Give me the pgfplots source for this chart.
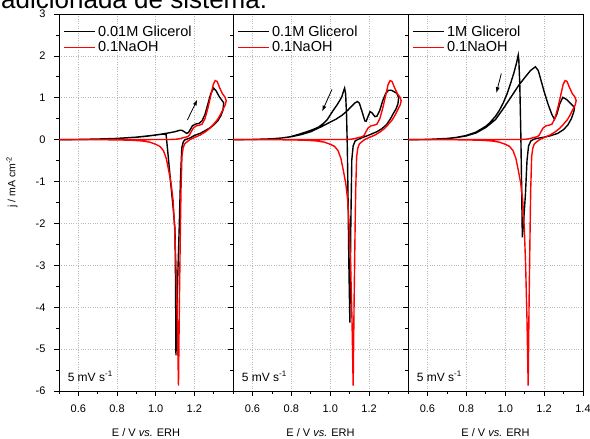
\documentclass[border=0pt]{standalone}
\usepackage{fontspec}
\setmainfont{Liberation Sans}
\usepackage{pgfplots}
\usepackage{pgfplotstable}
\pgfplotsset{compat=1.18}
\usetikzlibrary{arrows.meta}

% 0.1 M NaOH blank (same curve in all panels)
\pgfplotstableread{
E j
0.500 0.000
0.600 0.000
0.700 0.000
0.800 0.001
0.900 0.002
1.000 0.003
1.080 0.005
1.110 0.012
1.130 0.030
1.150 0.055
1.165 0.070
1.175 0.110
1.185 0.200
1.195 0.280
1.210 0.330
1.225 0.345
1.240 0.370
1.255 0.500
1.270 0.750
1.285 1.050
1.298 1.320
1.308 1.410
1.318 1.390
1.330 1.250
1.345 1.100
1.358 1.020
1.365 0.930
1.360 0.830
1.350 0.740
1.335 0.600
1.320 0.480
1.300 0.370
1.280 0.270
1.255 0.180
1.230 0.110
1.200 0.050
1.180 0.010
1.165 -0.040
1.150 -0.100
1.142 -0.200
1.136 -0.400
1.131 -1.200
1.128 -2.100
1.123 -3.800
1.118 -5.870
1.112 -4.300
1.105 -3.000
1.098 -2.100
1.090 -1.450
1.080 -1.050
1.068 -0.750
1.055 -0.450
1.040 -0.260
1.022 -0.160
1.000 -0.110
0.970 -0.060
0.930 -0.030
0.880 -0.015
0.800 -0.005
0.700 -0.001
0.500 0.000
}\naoh

% 0.01 M glicerol
\pgfplotstableread{
E j
0.500 0.000
0.600 0.005
0.700 0.015
0.800 0.030
0.900 0.060
0.970 0.095
1.020 0.125
1.060 0.155
1.100 0.190
1.125 0.225
1.135 0.225
1.148 0.190
1.160 0.150
1.170 0.170
1.180 0.250
1.190 0.330
1.205 0.370
1.225 0.390
1.240 0.450
1.255 0.600
1.270 0.850
1.285 1.100
1.300 1.230
1.312 1.170
1.330 1.020
1.352 0.880
1.348 0.700
1.336 0.560
1.320 0.440
1.300 0.350
1.280 0.280
1.250 0.200
1.230 0.150
1.200 0.100
1.178 0.040
1.165 0.020
1.152 0.000
1.143 -0.050
1.135 -0.200
1.128 -1.000
1.122 -2.080
1.116 -3.000
1.110 -4.000
1.105 -5.150
1.103 -3.500
1.100 -2.140
1.090 -1.600
1.077 -1.000
1.065 -0.400
1.054 0.120
1.040 0.135
1.000 0.110
0.950 0.080
0.900 0.058
0.800 0.028
0.700 0.013
0.600 0.004
0.500 0.000
}\glia

% 0.1 M glicerol
\pgfplotstableread{
E j
0.500 0.000
0.600 0.005
0.700 0.020
0.750 0.040
0.800 0.070
0.850 0.120
0.900 0.190
0.950 0.300
0.980 0.370
1.000 0.420
1.030 0.490
1.060 0.580
1.090 0.700
1.110 0.800
1.128 0.880
1.140 0.910
1.150 0.870
1.165 0.650
1.178 0.450
1.185 0.440
1.195 0.560
1.205 0.670
1.215 0.640
1.230 0.550
1.240 0.560
1.255 0.700
1.270 0.930
1.285 1.100
1.300 1.180
1.315 1.180
1.330 1.140
1.342 1.110
1.352 1.000
1.348 0.850
1.338 0.730
1.325 0.630
1.310 0.500
1.290 0.360
1.265 0.260
1.240 0.190
1.210 0.130
1.188 0.090
1.160 0.040
1.145 0.010
1.128 -0.030
1.118 -0.150
1.111 -0.480
1.106 -2.000
1.101 -4.370
1.096 -3.000
1.092 -1.500
1.088 -0.200
1.084 0.600
1.079 1.100
1.074 1.230
1.068 1.150
1.060 1.030
1.051 0.950
1.035 0.830
1.017 0.710
1.000 0.590
0.985 0.480
0.966 0.390
0.940 0.300
0.910 0.240
0.880 0.190
0.840 0.130
0.795 0.070
0.750 0.040
0.700 0.020
0.600 0.005
0.500 0.000
}\glib

% 1 M glicerol
\pgfplotstableread{
E j
0.500 0.000
0.600 0.005
0.700 0.025
0.750 0.050
0.800 0.090
0.850 0.160
0.900 0.290
0.950 0.480
0.990 0.740
1.030 1.020
1.070 1.300
1.100 1.480
1.130 1.650
1.155 1.740
1.170 1.650
1.185 1.400
1.200 1.150
1.220 0.850
1.240 0.600
1.253 0.490
1.265 0.600
1.280 0.850
1.296 1.010
1.315 0.960
1.335 0.870
1.356 0.770
1.353 0.670
1.340 0.500
1.322 0.350
1.300 0.240
1.270 0.150
1.230 0.090
1.200 0.060
1.170 0.035
1.149 0.015
1.132 -0.030
1.120 -0.150
1.112 -0.500
1.104 -1.300
1.094 -2.000
1.088 -2.330
1.084 -1.000
1.080 0.200
1.075 1.300
1.070 1.900
1.067 2.020
1.058 1.830
1.045 1.600
1.028 1.350
1.010 1.100
0.990 0.880
0.970 0.700
0.950 0.560
0.920 0.400
0.900 0.320
0.850 0.180
0.800 0.100
0.750 0.055
0.700 0.028
0.600 0.006
0.500 0.000
}\glic

\pgfplotsset{
  legend image code/.code={\draw[#1] (0pt,0pt) -- (31pt,0pt);},
  cvpanel/.style={
    scale only axis, width=174pt, height=377pt, anchor=south west,
    xmin=0.5, xmax=1.4, ymin=-6, ymax=3,
    xtick={0.6,0.8,1.0,1.2},
    minor xtick={0.5,0.7,0.9,1.1,1.3},
    ytick={-6,-5,-4,-3,-2,-1,0,1,2,3},
    minor ytick={-5.5,-4.5,-3.5,-2.5,-1.5,-0.5,0.5,1.5,2.5},
    tick pos=left, tick align=outside,
    major tick length=5pt, minor tick length=3pt,
    tick style={black, line width=0.7pt},
    grid=major,
    major grid style={dotted, gray!55, line width=0.6pt},
    axis line style={line width=0.8pt},
    /pgf/number format/assume math mode=true,
    ticklabel style={font=\fontsize{11}{13}\selectfont},
    xticklabel style={yshift=-5pt, /pgf/number format/.cd, fixed, fixed zerofill, precision=1},
    yticklabel style={xshift=-5pt},
    xlabel={E / V \textit{vs.} ERH},
    xlabel style={font=\fontsize{11}{13}\selectfont, at={(axis description cs:0.5,-0.111)}, anchor=center},
    legend style={at={(axis description cs:0.02,0.978)}, anchor=north west, draw=none, fill=none,
      font=\fontsize{14.5}{16}\selectfont, inner sep=1pt, row sep=0pt},
    legend cell align=left,
    every axis plot/.append style={line width=1.4pt},
  }
}

\begin{document}
\begin{tikzpicture}
\useasboundingbox (0pt,0pt) rectangle (590pt,439pt);
\begin{scope}
\clip (0pt,400pt) rectangle (590pt,439pt);
\node[anchor=base west, inner sep=0pt, font=\fontsize{26}{30}\selectfont] at (1pt,430.5pt) {adicionada de sistema.};
\end{scope}

\begin{axis}[cvpanel, at={(59pt,48pt)},
  ylabel={j / mA cm\textsuperscript{-2}},
  ylabel style={font=\fontsize{10.5}{12}\selectfont, at={(axis description cs:-0.27,0.554)}, anchor=center, rotate=0}]
\addplot[black, line width=1.4pt] table[x=E,y=j] {\glia};
\addplot[red, line width=1.4pt] table[x=E,y=j] {\naoh};
\legend{0.01M Glicerol, 0.1NaOH}
\node[anchor=base west, font=\fontsize{12}{14}\selectfont] at (axis description cs:0.03,0.026) {5 mV s\textsuperscript{-1}};
\draw[-{Latex[length=6pt,width=4pt]}, line width=0.8pt] (axis cs:1.164,0.47) -- (axis cs:1.216,0.96);
\end{axis}

\begin{axis}[cvpanel, at={(233pt,48pt)}, width=175pt, yticklabels={}]
\addplot[black, line width=1.4pt] table[x=E,y=j] {\glib};
\addplot[red, line width=1.4pt] table[x=E,y=j] {\naoh};
\legend{0.1M Glicerol, 0.1NaOH}
\node[anchor=base west, font=\fontsize{12}{14}\selectfont] at (axis description cs:0.03,0.026) {5 mV s\textsuperscript{-1}};
\draw[-{Latex[length=6pt,width=4pt]}, line width=0.8pt] (axis cs:1.009,1.20) -- (axis cs:0.958,0.67);
\end{axis}

\begin{axis}[cvpanel, at={(408pt,48pt)}, width=175pt, yticklabels={},
  xtick={0.6,0.8,1.0,1.2,1.4}]
\addplot[black, line width=1.4pt] table[x=E,y=j] {\glic};
\addplot[red, line width=1.4pt] table[x=E,y=j] {\naoh};
\legend{1M Glicerol, 0.1NaOH}
\node[anchor=base west, font=\fontsize{12}{14}\selectfont] at (axis description cs:0.03,0.026) {5 mV s\textsuperscript{-1}};
\draw[-{Latex[length=6pt,width=4pt]}, line width=0.8pt] (axis cs:0.980,1.58) -- (axis cs:0.954,1.11);
\end{axis}
\end{tikzpicture}
\end{document}
